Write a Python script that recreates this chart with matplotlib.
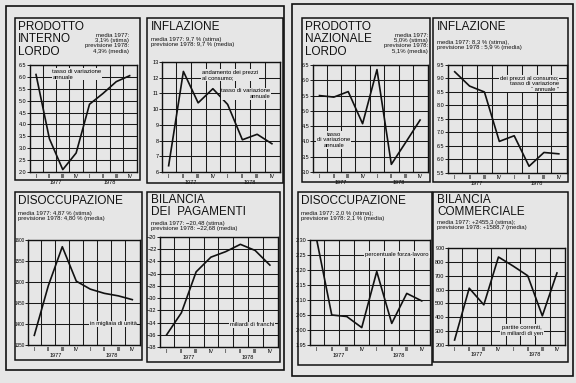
import matplotlib
matplotlib.use("Agg")
import matplotlib.pyplot as plt
from matplotlib.patches import Rectangle

W, H = 576, 383
BG = "#e6e6e6"
plt.rcParams['font.family'] = ['Liberation Sans', 'DejaVu Sans']

quarters = ["I", "II", "III", "IV", "I", "II", "III", "IV"]
years = ["1977", "1978"]

pil = [6.1, 3.4, 2.1, 2.8, 4.85, 5.3, 5.8, 6.05]
infl_fr = [6.4, 12.4, 10.4, 11.3, 10.3, 8.05, 8.4, 7.8]
pnl = [5.5, 5.45, 5.63, 4.58, 6.35, 3.25, 3.97, 4.7]
infl_jp = [9.25, 8.72, 8.5, 6.67, 6.88, 5.75, 6.26, 6.21]
disocc_fr = [1373, 1491, 1584, 1502, 1483, 1473, 1467, 1458]
bil_pag = [-36.0, -32.4, -25.7, -23.3, -22.4, -21.2, -22.2, -24.6]
disocc_jp = [2.30, 2.05, 2.045, 2.008, 2.195, 2.022, 2.122, 2.097]
bil_comm = [236, 610, 490, 835, 770, 700, 410, 720]

fig = plt.figure(figsize=(W / 100, H / 100), dpi=100, facecolor=BG)


def frect(x0, y0, x1, y1):
    return [x0 / W, 1 - y1 / H, (x1 - x0) / W, (y1 - y0) / H]


def box(x0, y0, x1, y1, lw=1.1):
    fig.add_artist(Rectangle((x0 / W, 1 - y1 / H), (x1 - x0) / W, (y1 - y0) / H,
                             transform=fig.transFigure, fill=False,
                             edgecolor="#111111", lw=lw))


def ftext(x, y, s, size=4.5, ha="left", va="top", **kw):
    fig.text(x / W, 1 - y / H, s, fontsize=size, ha=ha, va=va,
             linespacing=1.05, color="#111111", **kw)


def panel(plot, values, ylim, yticks, ylabels):
    ax = fig.add_axes(frect(*plot))
    ax.set_facecolor(BG)
    x = list(range(len(values)))
    ax.set_xlim(-0.45, 7.55)
    ax.set_ylim(*ylim)
    for yt in yticks:
        ax.axhline(yt, color="#1a1a1a", lw=0.75, zorder=1)
    for xv in [i + 0.5 for i in range(7)]:
        ax.axvline(xv, color="#1a1a1a", lw=0.75, zorder=1)
    ax.plot(x, values, color="#111111", lw=1.2, zorder=3)
    ax.set_yticks(yticks)
    ax.set_yticklabels(ylabels, fontsize=4)
    ax.set_xticks(x)
    ax.set_xticklabels(quarters, fontsize=4)
    ax.tick_params(axis="y", length=2, width=0.6, pad=0.5)
    ax.tick_params(axis="x", length=0, pad=1.5)
    for sp in ax.spines.values():
        sp.set_linewidth(1.0)
        sp.set_color("#111111")
    for xv, yr in zip([1.5, 5.5], years):
        ax.text(xv, -0.075, yr, transform=ax.get_xaxis_transform(),
                fontsize=4, ha="center", va="top")
    return ax


def note(ax, x, y, s, ha="left", va="top", ma=None):
    ax.text(x, y, s, transform=ax.transAxes, fontsize=4.2, ha=ha, va=va,
            multialignment=ma or ha, linespacing=1.1, zorder=4,
            bbox=dict(facecolor=BG, edgecolor="none", pad=0.6))


# outer frames
box(6, 6, 284, 370, lw=1.2)
box(292, 4, 573, 376, lw=1.2)

# Panel 1
box(15, 18, 140, 180)
ftext(18, 21, "PRODOTTO\nINTERNO\nLORDO", size=8.5)
ftext(129, 33, "media 1977:\n3,1% (stima)\nprevisione 1978:\n4,3% (media)",
      size=4.3, ha="right")
ax = panel((30, 65, 137, 172), pil, (2.0, 6.5),
           [2.0, 2.5, 3.0, 3.5, 4.0, 4.5, 5.0, 5.5, 6.0, 6.5],
           ["2.0", "2.5", "3.0", "3.5", "4.0", "4.5", "5.0", "5.5", "6.0", "6.5"])
note(ax, 0.21, 0.96, "tasso di variazione\nannuale")

# Panel 2
box(147, 18, 283, 183)
ftext(151, 21, "INFLAZIONE", size=8.5)
ftext(151, 37, "media 1977: 9,7 % (stima)\nprevisione 1978: 9,7 % (media)", size=4.3)
ax = panel((162, 62, 280, 172), infl_fr, (6, 13), list(range(6, 14)),
           [str(v) for v in range(6, 14)])
note(ax, 0.34, 0.93, "andamento dei prezzi\nal consumo;")
note(ax, 0.92, 0.76, "tasso di variazione\nannuale", ha="right")

# Panel 3
box(302, 18, 430, 182)
ftext(305, 21, "PRODOTTO\nNAZIONALE\nLORDO", size=8.5)
ftext(428, 33, "media 1977:\n5,0% (stima)\nprevisione 1978:\n5,1% (media)",
      size=4.3, ha="right")
ax = panel((313, 65, 428, 172), pnl, (3.0, 6.5),
           [3.0, 3.5, 4.0, 4.5, 5.0, 5.5, 6.0, 6.5],
           ["3.0", "3.5", "4.0", "4.5", "5.0", "5.5", "6.0", "6.5"])
note(ax, 0.18, 0.30, "tasso\ndi variazione\nannuale", ha="center", va="center")

# Panel 4
box(433, 18, 568, 182)
ftext(437, 21, "INFLAZIONE", size=8.5)
ftext(437, 40, "media 1977: 8,3 % (stima),\nprevisione 1978 : 5,9 % (media)", size=4.3)
ax = panel((448, 65, 567, 173), infl_jp, (5.5, 9.5),
           [5.5, 6.0, 6.5, 7.0, 7.5, 8.0, 8.5, 9.0, 9.5],
           ["5.5", "6.0", "6.5", "7.0", "7.5", "8.0", "8.5", "9.0", "9.5"])
note(ax, 0.93, 0.90, "dei prezzi al consumo;\ntasso di variazione\n\u201c annuale \u201d",
     ha="right")

# Panel 5
box(15, 192, 142, 360)
ftext(18, 195, "DISOCCUPAZIONE", size=8.5)
ftext(18, 211, "media 1977: 4,87 % (stima)\nprevisione 1978: 4,80 % (media)", size=4.3)
ax = panel((28, 240, 140, 345), disocc_fr, (1350, 1600),
           [1350, 1400, 1450, 1500, 1550, 1600],
           ["1350", "1400", "1450", "1500", "1550", "1600"])
ax.tick_params(axis="y", labelsize=3.3)
note(ax, 0.97, 0.20, "in migliaia di unit\u00e0", ha="right", va="center")

# Panel 6
box(147, 192, 280, 362)
ftext(151, 194, "BILANCIA\nDEI  PAGAMENTI", size=8.5)
ftext(151, 221, "media 1977: \u221220,48 (stima)\nprevisione 1978: \u221222,68 (media)", size=4.3)
ax = panel((160, 237, 278, 347), bil_pag, (-38, -20), list(range(-38, -19, 2)),
           ["\u2212" + str(-v) for v in range(-38, -19, 2)])
note(ax, 0.97, 0.20, "miliardi di franchi", ha="right", va="center")

# Panel 7
box(298, 192, 432, 365)
ftext(301, 195, "DISOCCUPAZIONE", size=8.5)
ftext(301, 211, "media 1977: 2,0 % (stima);\nprevisione 1978: 2,1 % (media)", size=4.3)
yt7 = [1.95, 2.00, 2.05, 2.10, 2.15, 2.20, 2.25, 2.30]
ax = panel((310, 240, 430, 345), disocc_jp, (1.95, 2.30), yt7,
           ["%.2f" % v for v in yt7])
note(ax, 0.99, 0.86, "percentuale forza-lavoro", ha="right", va="center")

# Panel 8
box(433, 192, 568, 362)
ftext(437, 194, "BILANCIA\nCOMMERCIALE", size=8.5)
ftext(437, 220, "media 1977: +2455,3 (stima);\nprevisione 1978: +1588,7 (media)", size=4.3)
ax = panel((448, 248, 565, 345), bil_comm, (200, 900), list(range(200, 901, 100)),
           [str(v) for v in range(200, 901, 100)])
note(ax, 0.63, 0.15, "partite correnti,\nin miliardi di yen", ha="center", va="center")

fig.savefig("out.png", dpi=100, facecolor=BG)
